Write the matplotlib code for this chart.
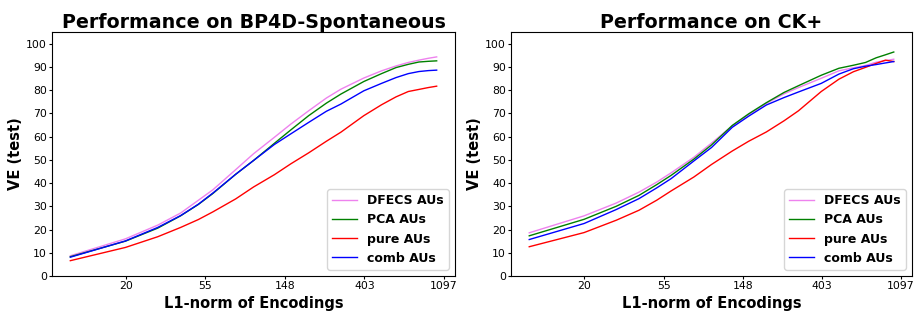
import matplotlib

matplotlib.use("Agg")
import matplotlib.pyplot as plt
import numpy as np

# L1-norm of the encodings (x axis is drawn on a natural-log scale)
l1_norm = [10, 20, 30, 40, 50, 60, 80, 100, 130, 160, 200, 250, 300, 400, 500, 600, 700, 800, 900, 1000]
tick_pos = [3, 4, 5, 6, 7]
tick_labels = ["20", "55", "148", "403", "1097"]

# BP4D-Spontaneous
bp4d_dfecs = [8.7, 16.0, 21.9, 27.1, 32.6, 37.1, 45.8, 52.6, 59.7, 65.4, 71.1, 76.6, 80.4, 85.2, 88.3, 90.4, 91.9, 92.9, 93.7, 94.3]
bp4d_pca = [8.3, 15.0, 20.6, 25.9, 30.8, 35.5, 43.8, 49.7, 57.1, 62.9, 69.0, 74.4, 78.3, 83.7, 87.1, 89.7, 91.1, 92.1, 92.4, 92.6]
bp4d_pure = [6.6, 12.3, 16.9, 20.9, 24.3, 27.6, 33.2, 38.3, 43.6, 48.3, 53.0, 58.0, 61.9, 69.0, 73.7, 77.1, 79.4, 80.3, 81.1, 81.7]
bp4d_comb = [8.1, 15.1, 20.9, 26.0, 30.9, 35.7, 43.8, 49.7, 56.6, 61.2, 66.1, 70.9, 74.0, 79.7, 82.9, 85.4, 87.1, 88.0, 88.4, 88.6]

# CK+
ck_dfecs = [18.6, 25.9, 31.4, 36.1, 40.4, 44.4, 51.1, 57.2, 64.6, 69.5, 74.3, 78.4, 81.1, 85.1, 88.3, 89.6, 90.6, 92.0, 92.7, 93.3]
ck_pca = [17.3, 24.4, 30.0, 34.7, 39.3, 43.3, 50.3, 56.4, 64.8, 69.8, 74.6, 79.0, 81.9, 86.4, 89.4, 90.7, 91.9, 93.9, 95.2, 96.4]
ck_pure = [12.6, 18.7, 24.0, 28.3, 32.6, 36.6, 42.6, 48.0, 53.8, 58.0, 62.0, 66.8, 71.1, 79.4, 84.7, 87.9, 89.8, 91.5, 92.9, 92.3]
ck_comb = [15.7, 22.6, 28.6, 33.3, 37.9, 41.9, 49.5, 55.3, 64.0, 68.8, 73.6, 76.8, 79.2, 82.9, 86.9, 89.2, 90.3, 91.0, 91.7, 92.3]

labels = ["DFECS AUs", "PCA AUs", "pure AUs", "comb AUs"]
colors = ["violet", "green", "red", "blue"]

panels = [
    ("Performance on BP4D-Spontaneous", [bp4d_dfecs, bp4d_pca, bp4d_pure, bp4d_comb]),
    ("Performance on CK+", [ck_dfecs, ck_pca, ck_pure, ck_comb]),
]

fig = plt.figure(figsize=(9.14, 3.11), dpi=100)
axes = [
    fig.add_axes([0.0569, 0.1125, 0.4409, 0.7845]),
    fig.add_axes([0.5591, 0.1125, 0.4387, 0.7845]),
]

x = np.log(l1_norm)
for ax, (title, series) in zip(axes, panels):
    for y, lab, col in zip(series, labels, colors):
        ax.plot(x, y, color=col, linewidth=1, label=lab)
    ax.set_title(title, fontsize=13.7, fontweight="bold", pad=3)
    ax.set_xlabel("L1-norm of Encodings", fontsize=10.5, fontweight="bold", labelpad=3.5)
    ax.set_ylabel("VE (test)", fontsize=10.5, fontweight="bold", labelpad=2.5)
    ax.set_xticks(tick_pos)
    ax.set_xticklabels(tick_labels)
    ax.set_yticks(np.arange(0, 101, 10))
    ax.set_ylim(0, 105)
    ax.tick_params(labelsize=7.8, length=2.2, pad=1.5)
    ax.legend(loc="lower right", prop={"weight": "bold", "size": 9})

fig.savefig("out.png", dpi=100)
